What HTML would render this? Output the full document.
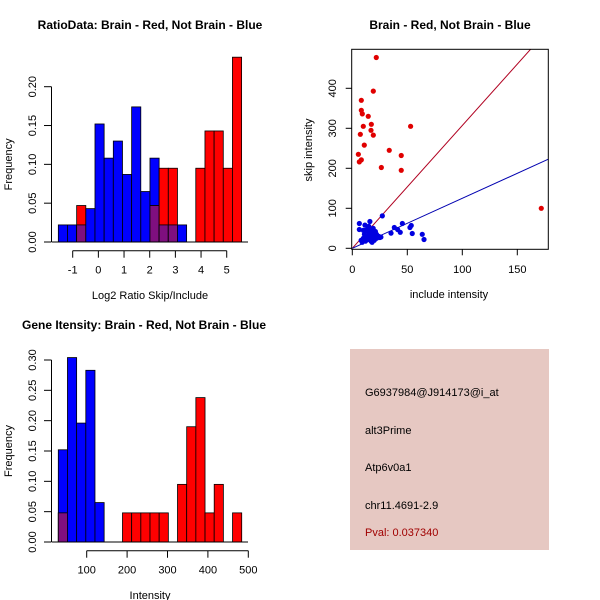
<!DOCTYPE html>
<html><head><meta charset="utf-8"><style>
body{margin:0;background:#fff}
svg{display:block;font-family:"Liberation Sans",sans-serif}
</style></head><body>
<svg id="s" width="600" height="600" viewBox="0 0 600 600" xmlns="http://www.w3.org/2000/svg">
<rect width="600" height="600" fill="#fff"/>
<text x="150" y="29" text-anchor="middle" font-size="12" font-weight="bold">RatioData: Brain - Red, Not Brain - Blue</text>
<text x="450" y="29" text-anchor="middle" font-size="12" font-weight="bold">Brain - Red, Not Brain - Blue</text>
<text x="144" y="329" text-anchor="middle" font-size="12" font-weight="bold">Gene Itensity: Brain - Red, Not Brain - Blue</text>
<g>
<rect x="350" y="349" width="199" height="201" fill="#e6c8c2"/>
<text x="365" y="396" font-size="11">G6937984@J914173@i_at</text>
<text x="365" y="434" font-size="11">alt3Prime</text>
<text x="365" y="471" font-size="11">Atp6v0a1</text>
<text x="365" y="509" font-size="11">chr11.4691-2.9</text>
<text x="365" y="536" font-size="11" fill="#a00000">Pval: 0.037340</text>
</g>
</svg>
<script>
// Ratio histogram data
const ratioStart=-1.56, ratioWidth=0.357;
const ratioBlue=[0.022,0.022,0.022,0.043,0.152,0.108,0.130,0.087,0.174,0.065,0.108,0.022,0.022,0.022,0,0,0,0,0,0];
const ratioRed=[0,0,0.047,0,0,0,0,0,0,0,0.047,0.095,0.095,0,0,0.095,0.143,0.143,0.095,0.238];
const ratioXTicks=[-1,0,1,2,3,4,5];
const ratioYTicks=[0,0.05,0.10,0.15,0.20];
const ratioYLabels=["0.00","0.05","0.10","0.15","0.20"];
// Intensity histogram data
const intStart=29.7, intWidth=22.7;
const intBlue=[0.152,0.304,0.196,0.283,0.065,0,0,0,0,0,0,0,0,0,0,0,0,0,0,0];
const intRed=[0.048,0,0,0,0,0,0,0.048,0.048,0.048,0.048,0.048,0,0.095,0.190,0.238,0.048,0.095,0,0.048];
const intXTicks=[100,200,300,400,500];
const intYTicks=[0,0.05,0.10,0.15,0.20,0.25,0.30];
const intYLabels=["0.00","0.05","0.10","0.15","0.20","0.25","0.30"];
// Scatter data
const redX=[21.8,19.1,8.2,8.2,9.1,14.5,10,53,17.3,17,7.3,19.1,10.9,33.6,5.5,44.5,8.2,6.4,26.4,44.5,171.8];
const redY=[477,393,370,345,336,330,305,305,310,295,285,283,258,245,235,232,221,216,202,195,100];
const blueX=[6.4,16,27.3,45.5,6.4,11.5,53.6,52.4,38.2,41.2,43.6,35.2,54.5,63.6,65.2,8,9,10,11,12,13,14,15,16,17,17,18,18,19,20,20,21,22,22,23,24,25,26,19,15,12,10,18,21,16,14];
const blueY=[62,67,81,62,47,58,57,52,52,47,40,38,37,35,22,20,15,25,35,45,30,22,40,28,18,35,45,25,38,30,20,42,35,25,28,30,27,28,50,55,18,45,15,32,38,48];
const redSlope=3.07, blueSlope=1.25;
const scXTicks=[0,50,100,150];
const scYTicks=[0,100,200,300,400];

const NS="http://www.w3.org/2000/svg";
const svg=document.getElementById('s');
function mk(t,a,p){const e=document.createElementNS(NS,t);for(const k in a)e.setAttribute(k,a[k]);(p||svg).appendChild(e);return e;}

function hist(o){
  const g=mk('g',{});
  
  
  const X=v=>o.x0+(v-o.xv0)*o.kx, Y=v=>o.y0-v*o.ky;
  const n=o.blue.length;
  for(let i=0;i<n;i++){
    const a=o.start+i*o.width,b=a+o.width;
    const x1=X(a),x2=X(b);
    const bv=o.blue[i],rv=o.red[i];
    if(bv>0){const r=mk('rect',{x:x1,y:Y(bv),width:x2-x1,height:Y(0)-Y(bv),fill:'#0000ff',stroke:'#000','stroke-width':0.8},g);
      }
    if(rv>0){const r=mk('rect',{x:x1,y:Y(rv),width:x2-x1,height:Y(0)-Y(rv),fill:'#ff0000',stroke:'#000','stroke-width':0.8},g);
      }
    if(bv>0&&rv>0){const m=Math.min(bv,rv);const r=mk('rect',{x:x1,y:Y(m),width:x2-x1,height:Y(0)-Y(m),fill:'#7f0f7f',stroke:'#000','stroke-width':0.8},g);
      }
  }
  mk('line',{x1:52,x2:248,y1:Y(0),y2:Y(0),stroke:'#000'},g);
  // y axis
  const ya=mk('g',{},g);
  
  mk('line',{x1:51.5,x2:51.5,y1:Y(o.yt[0]),y2:Y(o.yt[o.yt.length-1]),stroke:'#000'},ya);
  o.yt.forEach((v,i)=>{mk('line',{x1:44,x2:51.5,y1:Y(v),y2:Y(v),stroke:'#000'},ya);
    const t=mk('text',{x:36,y:Y(v),'font-size':11,'text-anchor':'middle',transform:`rotate(-90 36 ${Y(v)})`},ya);t.textContent=o.yl[i];});
  const xa=mk('g',{},g);
  
  const ay=o.y0+8.7;
  mk('line',{x1:X(o.xt[0]),x2:X(o.xt[o.xt.length-1]),y1:ay,y2:ay,stroke:'#000'},xa);
  o.xt.forEach(v=>{mk('line',{x1:X(v),x2:X(v),y1:ay,y2:ay+7,stroke:'#000'},xa);
    const t=mk('text',{x:X(v),y:ay+23,'font-size':11,'text-anchor':'middle'},xa);t.textContent=String(v);});
  const xl=mk('text',{x:150,y:o.y0+57,'font-size':11,'text-anchor':'middle'},g);xl.textContent=o.xlab;
  
  const yl=mk('text',{x:12,y:(o.y0+Y(o.yt[o.yt.length-1]))/2,'font-size':11,'text-anchor':'middle',transform:`rotate(-90 12 ${(o.y0+Y(o.yt[o.yt.length-1]))/2})`},g);yl.textContent='Frequency';
  
}
hist({name:'ratio-histogram',blue:ratioBlue,red:ratioRed,start:ratioStart,width:ratioWidth,x0:72.7,xv0:-1,kx:25.67,y0:242,ky:776.5,xt:ratioXTicks,yt:ratioYTicks,yl:ratioYLabels,xlab:'Log2 Ratio Skip/Include'});
hist({name:'intensity-histogram',blue:intBlue,red:intRed,start:intStart,width:intWidth,x0:86.7,xv0:100,kx:0.404,y0:542,ky:606.7,xt:intXTicks,yt:intYTicks,yl:intYLabels,xlab:'Intensity'});

// scatter
(function(){
  const g=mk('g',{});
  
  const L=351.7,R=548.3,T=49.3,B=249.3;
  const X=v=>352.3+v*1.1, Y=v=>248.3-v*0.4;
  mk('clipPath',{id:'cp'},g);
  const cp=g.querySelector('#cp');mk('rect',{x:L,y:T,width:R-L,height:B-T},cp);
  const xmax=(R-352.3)/1.1;
  const rl=mk('line',{x1:X(0),y1:Y(0),x2:X(xmax),y2:Y(redSlope*xmax),stroke:'#b00020','stroke-width':1,'clip-path':'url(#cp)'},g);
  
  const bl=mk('line',{x1:X(0),y1:Y(0),x2:X(xmax),y2:Y(blueSlope*xmax),stroke:'#0000b0','stroke-width':1,'clip-path':'url(#cp)'},g);
  
  redX.forEach((x,i)=>{const c=mk('circle',{cx:X(x),cy:Y(redY[i]),r:2.6,fill:'#e00000'},g);
    });
  blueX.forEach((x,i)=>{const c=mk('circle',{cx:X(x),cy:Y(blueY[i]),r:2.6,fill:'#0000e0'},g);
    });
  const box=mk('rect',{x:L,y:T,width:R-L,height:B-T,fill:'none',stroke:'#000'},g);
  
  scXTicks.forEach(v=>{mk('line',{x1:X(v),x2:X(v),y1:B,y2:B+6,stroke:'#000'},g);
    const t=mk('text',{x:X(v),y:273,'font-size':11,'text-anchor':'middle'},g);t.textContent=String(v);});
  scYTicks.forEach(v=>{mk('line',{x1:L-6,x2:L,y1:Y(v),y2:Y(v),stroke:'#000'},g);
    const t=mk('text',{x:336,y:Y(v),'font-size':11,'text-anchor':'middle',transform:`rotate(-90 336 ${Y(v)})`},g);t.textContent=String(v);});
  const xl=mk('text',{x:449,y:298,'font-size':11,'text-anchor':'middle'},g);xl.textContent='include intensity';
  
  const yl=mk('text',{x:312,y:150,'font-size':11,'text-anchor':'middle',transform:'rotate(-90 312 150)'},g);yl.textContent='skip intensity';
  
})();
</script>
</body></html>
